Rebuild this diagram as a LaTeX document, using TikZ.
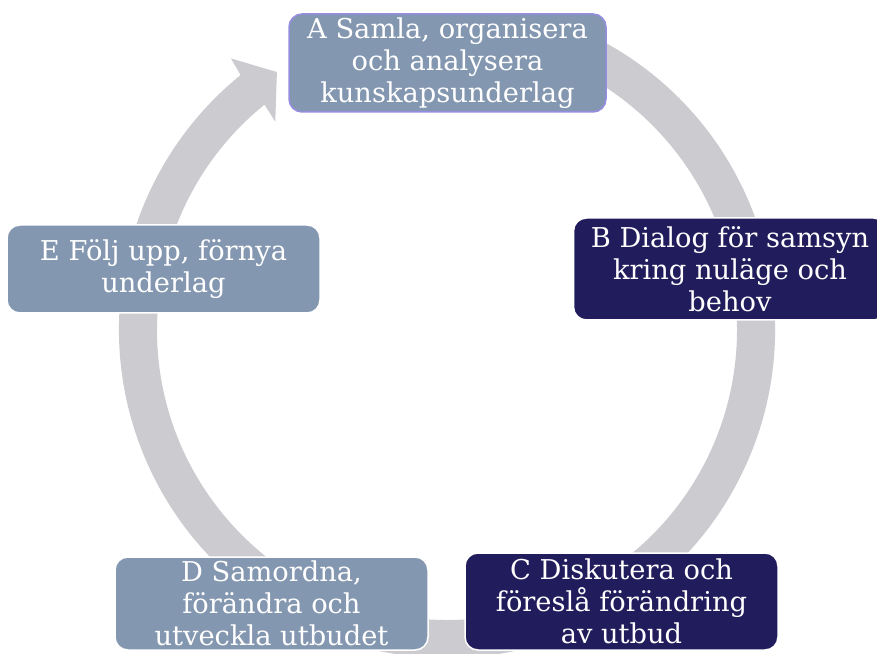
\documentclass[tikz,border=0pt]{standalone}
\usepackage{fontspec}
\setmainfont{DejaVu Serif}
\usetikzlibrary{positioning}
\definecolor{ringgrey}{RGB}{203,203,208}
\definecolor{steelblue}{RGB}{132,151,176}
\definecolor{navyblue}{RGB}{33,28,92}
\definecolor{lavender}{RGB}{150,140,225}

\begin{document}
\begin{tikzpicture}[x=1pt, y=1pt,
      every node/.style={rounded corners=13pt, text=white, align=center, inner sep=0pt,
        font=\fontsize{27.3}{32}\selectfont, draw=white, line width=1.5pt,
        minimum width=313pt},
      lightbox/.style={fill=steelblue},
      darkbox/.style={fill=navyblue}]
  \useasboundingbox (0,0) rectangle (877,653);
  %.
  \begin{scope}[shift={(447,323)}]
    \fill[ringgrey] (65:328) arc[start angle=65, end angle=-231, radius=328]
      -- (-231.5:347) -- (-236.6:309) -- (-230.5:270) -- (-231:290)
      arc[start angle=-231, end angle=65, radius=290] -- cycle;
  \end{scope}
  %.
  \node[lightbox, draw=lavender, minimum width=317pt, minimum height=98pt] (a) at (447.5,590)
    {A Samla, organisera\\och analysera\\kunskapsunderlag};
  \node[darkbox, minimum height=102pt] (b) at (730,384)
    {B Dialog för samsyn\\kring nuläge och\\behov};
  \node[darkbox, minimum height=97pt] (c) at (621.5,51.5)
    {C Diskutera och\\föreslå förändring\\av utbud};
  \node[lightbox, minimum height=93pt] (d) at (271.5,49.5)
    {D Samordna,\\förändra och\\utveckla utbudet};
  \node[lightbox, minimum height=88pt] (e) at (163.5,384)
    {E Följ upp, förnya\\underlag};
  %.
\end{tikzpicture}
\end{document}
